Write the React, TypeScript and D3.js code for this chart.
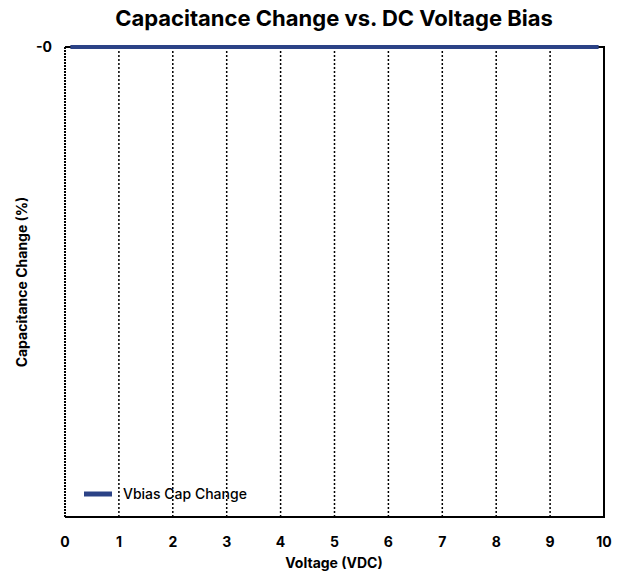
import { useEffect, useRef } from "react";
import * as d3 from "d3";

const voltages = [0.1, 0.5, 1, 1.5, 2, 2.5, 3, 3.5, 4, 4.5, 5, 5.5, 6, 6.5, 7, 7.5, 8, 8.5, 9, 9.5, 9.9];
const capChange = [0, 0, 0, 0, 0, 0, 0, 0, 0, 0, 0, 0, 0, 0, 0, 0, 0, 0, 0, 0, 0];
const xTicks = [0, 1, 2, 3, 4, 5, 6, 7, 8, 9, 10];
const yTicks = [0];
const yTickLabels = ["-0"];
const seriesName = "Vbias Cap Change";

const FONT = "Inter, 'Open Sans', 'DejaVu Sans', sans-serif";
const BLUE = "#2b4286";

export default function App() {
  const svgRef = useRef(null);

  useEffect(() => {
    if (!svgRef.current) return;
    const width = 626;
    const height = 577;
    const m = { left: 65, right: 22, top: 47, bottom: 60 };

    const svg = d3.select(svgRef.current);
    svg.selectAll("*").remove();
    svg.attr("width", width).attr("height", height);

    const x = d3.scaleLinear().domain([0, 10]).range([m.left, width - m.right]);
    const y = d3.scaleLinear().domain([-1, 0]).range([height - m.bottom, m.top]);

    // gridlines
    xTicks.slice(0, -1).forEach((t) => {
      svg
        .append("line")
        .attr("x1", x(t))
        .attr("x2", x(t))
        .attr("y1", m.top)
        .attr("y2", height - m.bottom)
        .attr("stroke", "#000")
        .attr("stroke-width", t === 0 ? 2 : 1.5)
        .attr("stroke-dasharray", t === 0 ? "2,1" : "2,2");
    });

    // frame: top, right, bottom
    svg
      .append("path")
      .attr("d", `M${x(0)},${m.top}H${x(10)}V${height - m.bottom}H${x(0)}`)
      .attr("fill", "none")
      .attr("stroke", "#000")
      .attr("stroke-width", 2);

    // series line
    const line = d3
      .line<number>()
      .x((_, i) => x(voltages[i]))
      .y((d) => y(d));
    svg
      .append("path")
      .datum(capChange)
      .attr("d", line)
      .attr("fill", "none")
      .attr("stroke", BLUE)
      .attr("stroke-width", 4);

    const txt = (sel, size, weight) =>
      sel
        .attr("font-family", FONT)
        .attr("font-weight", weight)
        .attr("font-size", size)
        .attr("fill", "#000");

    // x tick labels
    xTicks.forEach((t) => {
      txt(svg.append("text"), "14px", 700)
        .attr("x", x(t))
        .attr("y", 547)
        .attr("text-anchor", "middle")
        .text(t);
    });

    // y tick labels
    yTicks.forEach((t, i) => {
      txt(svg.append("text"), "14px", 700)
        .attr("x", 52)
        .attr("y", y(t) + 5)
        .attr("text-anchor", "end")
        .text(yTickLabels[i]);
    });

    // title
    txt(svg.append("text"), "22px", 700)
      .attr("x", 334)
      .attr("y", 26)
      .attr("text-anchor", "middle")
      .text("Capacitance Change vs. DC Voltage Bias");

    // axis titles
    txt(svg.append("text"), "14px", 700)
      .attr("x", 334)
      .attr("y", 568)
      .attr("text-anchor", "middle")
      .text("Voltage (VDC)");

    txt(svg.append("text"), "14px", 700)
      .attr("transform", `translate(27,${(m.top + height - m.bottom) / 2}) rotate(-90)`)
      .attr("text-anchor", "middle")
      .text("Capacitance Change (%)");

    // legend
    svg
      .append("line")
      .attr("x1", 84)
      .attr("x2", 112)
      .attr("y1", 494)
      .attr("y2", 494)
      .attr("stroke", BLUE)
      .attr("stroke-width", 5);
    txt(svg.append("text"), "14px", 500)
      .attr("x", 123)
      .attr("y", 499)
      .text(seriesName);
  }, []);

  return (
    <svg
      ref={svgRef}
      style={{ position: "absolute", left: 0, top: 0, background: "#fff" }}
    />
  );
}
